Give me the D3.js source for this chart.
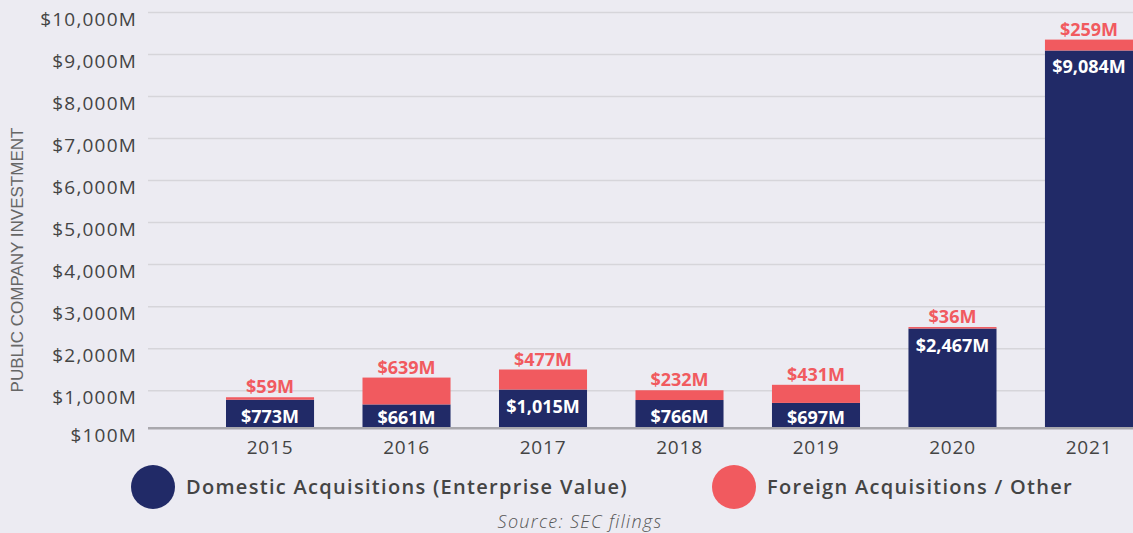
<!DOCTYPE html>
<html>
<head>
<meta charset="utf-8">
<script src="https://cdn.jsdelivr.net/npm/d3@7"></script>
<style>
  body { margin: 0; background: #ecebf2; }
  svg { display: block; font-family: "Open Sans", sans-serif; }
</style>
</head>
<body>
<div id="chart"></div>
<script>
// Data (values in $M)
const years = ["2015", "2016", "2017", "2018", "2019", "2020", "2021"];
const domestic = [773, 661, 1015, 766, 697, 2467, 9084];
const foreign = [59, 639, 477, 232, 431, 36, 259];
const yTicks = [100, 1000, 2000, 3000, 4000, 5000, 6000, 7000, 8000, 9000, 10000];
const seriesNames = ["Domestic Acquisitions (Enterprise Value)", "Foreign Acquisitions / Other"];

const navy = "#212a67";
const coral = "#f15a5f";

const width = 1133, height = 533;

const svg = d3.select("#chart")
    .append("svg")
    .attr("width", width)
    .attr("height", height);

svg.append("rect")
    .attr("width", width)
    .attr("height", height)
    .attr("fill", "#ecebf2");

// Scales
const x = d3.scaleBand()
    .domain(years)
    .range([201.75, 1157.25])
    .paddingInner(0.355)
    .paddingOuter(0.1777);

const y = d3.scaleLinear()
    .domain([100, 10000])
    .range([428, 12]);

const money = v => "$" + d3.format(",")(v) + "M";

// Gridlines + y labels
const yAxis = svg.append("g")
    .attr("transform", "translate(148,0)")
    .call(d3.axisLeft(y).tickValues(yTicks).tickSize(-(width - 148)).tickFormat(money).tickPadding(11));
yAxis.select(".domain").remove();
yAxis.selectAll(".tick line")
    .attr("stroke", d => d === 100 ? "#a9a8ad" : "#d6d5da")
    .attr("stroke-width", d => d === 100 ? 2 : 1.5);
yAxis.selectAll(".tick text")
    .attr("dy", "0.85em")
    .attr("y", -3)
    .style("font-size", "19px")
    .style("letter-spacing", "1.2px")
    .style("font-family", "'Open Sans', sans-serif")
    .attr("fill", "#444");

// Axis title
svg.append("text")
    .attr("transform", "translate(23,260) rotate(-90)")
    .attr("text-anchor", "middle")
    .style("font-family", "'Liberation Sans', Arial, sans-serif")
    .style("font-size", "17px")
    .attr("fill", "#666")
    .text("PUBLIC COMPANY INVESTMENT");

const rows = years.map((yr, i) => ({ yr, dom: domestic[i], frn: foreign[i] }));

// Domestic bars
svg.selectAll(".dom")
    .data(rows)
    .enter()
    .append("rect")
    .attr("class", "dom")
    .attr("x", d => x(d.yr))
    .attr("width", x.bandwidth())
    .attr("y", d => y(d.dom))
    .attr("height", d => y(100) - y(d.dom))
    .attr("fill", navy);

// Foreign bars stacked on top
svg.selectAll(".frn")
    .data(rows)
    .enter()
    .append("rect")
    .attr("class", "frn")
    .attr("x", d => x(d.yr))
    .attr("width", x.bandwidth())
    .attr("y", d => y(d.dom + d.frn))
    .attr("height", d => y(d.dom) - y(d.dom + d.frn))
    .attr("fill", coral);

// Baseline on top of bars
svg.append("line")
    .attr("x1", 148).attr("x2", width)
    .attr("y1", y(100)).attr("y2", y(100))
    .attr("stroke", "#a9a8ad")
    .attr("stroke-width", 2);

// Value labels
svg.selectAll(".domLabel")
    .data(rows)
    .enter()
    .append("text")
    .attr("x", d => x(d.yr) + x.bandwidth() / 2)
    .attr("y", d => Math.min(y(d.dom) + 23, 424))
    .attr("text-anchor", "middle")
    .style("font-size", "18px")
    .style("font-weight", 700)
    .attr("fill", "#fff")
    .text(d => money(d.dom));

svg.selectAll(".frnLabel")
    .data(rows)
    .enter()
    .append("text")
    .attr("x", d => x(d.yr) + x.bandwidth() / 2)
    .attr("y", d => y(d.dom + d.frn) - 4)
    .attr("text-anchor", "middle")
    .style("font-size", "18px")
    .style("font-weight", 700)
    .attr("fill", coral)
    .text(d => money(d.frn));

// Year labels
svg.selectAll(".year")
    .data(years)
    .enter()
    .append("text")
    .attr("x", d => x(d) + x.bandwidth() / 2)
    .attr("y", 454)
    .attr("text-anchor", "middle")
    .style("font-size", "19px")
    .style("letter-spacing", "0.8px")
    .attr("fill", "#444")
    .text(d => d);

// Legend
const legendX = [153, 734];
const legendColors = [navy, coral];
const legend = svg.selectAll(".legend")
    .data(seriesNames)
    .enter()
    .append("g")
    .attr("transform", (d, i) => `translate(${legendX[i]},487)`);
legend.append("circle")
    .attr("r", 22)
    .attr("fill", (d, i) => legendColors[i]);
legend.append("text")
    .attr("x", 33)
    .attr("y", 7)
    .style("font-size", "20px")
    .style("font-weight", 600)
    .style("letter-spacing", "1.3px")
    .attr("fill", "#444")
    .text(d => d);

// Source
svg.append("text")
    .attr("x", 580)
    .attr("y", 528)
    .attr("text-anchor", "middle")
    .style("font-size", "18px")
    .style("font-style", "italic")
    .style("font-weight", 300)
    .style("letter-spacing", "1.3px")
    .attr("fill", "#555")
    .text("Source: SEC filings");
</script>
</body>
</html>
